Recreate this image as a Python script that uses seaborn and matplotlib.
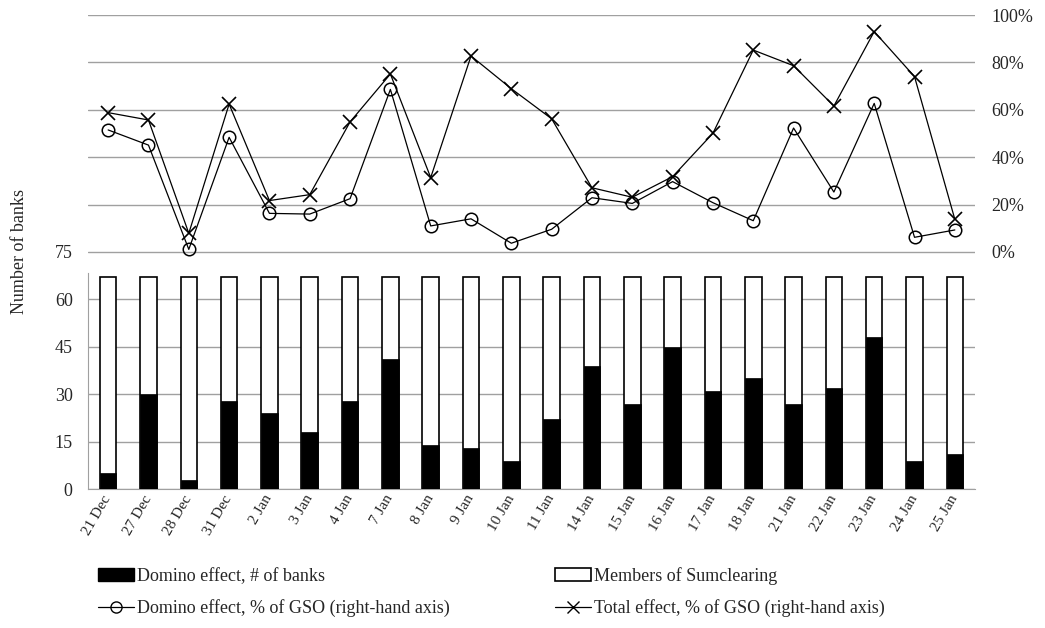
import numpy as np
import pandas as pd
import matplotlib
matplotlib.use('Agg')
import matplotlib.pyplot as plt
import matplotlib.transforms as mtransforms
from matplotlib.ticker import PercentFormatter, FixedLocator
from matplotlib.patches import Patch
from matplotlib.lines import Line2D
import seaborn as sns

# Data
dates = ['21 Dec', '27 Dec', '28 Dec', '31 Dec', '2 Jan', '3 Jan', '4 Jan', '7 Jan',
         '8 Jan', '9 Jan', '10 Jan', '11 Jan', '14 Jan', '15 Jan', '16 Jan', '17 Jan',
         '18 Jan', '21 Jan', '22 Jan', '23 Jan', '24 Jan', '25 Jan']
members = [67] * len(dates)
domino_banks = [5, 30, 3, 28, 24, 18, 28, 41, 14, 13, 9, 22, 39, 27, 45, 31, 35, 27, 32, 48, 9, 11]
domino_pct = [0.515, 0.451, 0.011, 0.484, 0.163, 0.160, 0.225, 0.686, 0.110, 0.140, 0.037, 0.096,
              0.229, 0.205, 0.297, 0.208, 0.132, 0.523, 0.253, 0.627, 0.062, 0.093]
total_pct = [0.588, 0.557, 0.079, 0.624, 0.217, 0.242, 0.549, 0.751, 0.314, 0.827, 0.689, 0.562,
             0.271, 0.231, 0.318, 0.501, 0.852, 0.786, 0.616, 0.930, 0.740, 0.138]

df = pd.DataFrame({'date': dates, 'members': members, 'domino': domino_banks,
                   'domino_pct': domino_pct, 'total_pct': total_pct})
df['pos'] = np.arange(len(df))

sns.set_style('white')
plt.rcParams['font.family'] = ['Liberation Serif', 'DejaVu Serif']
grid_col = '#A0A0A0'

fig = plt.figure(figsize=(10.45, 6.28), dpi=100)
ax = fig.add_axes([88 / 1045, 1 - 489 / 628, (975 - 88) / 1045, (489 - 15) / 628])

# Bars: total members (outlined) with domino effect count on top
sns.barplot(data=df, x='date', y='members', color='white', edgecolor='black',
            linewidth=1.2, width=0.41, saturation=1, ax=ax, zorder=2)
sns.barplot(data=df, x='date', y='domino', color='black', edgecolor='black',
            linewidth=0.5, width=0.41, saturation=1, ax=ax, zorder=3)

ax.set_xlim(-0.5, len(dates) - 0.5)
ax.set_ylim(0, 150)
ax.set_yticks(np.arange(0, 151, 15))
ax.set_yticklabels([str(v) if v <= 75 else '' for v in range(0, 151, 15)], fontsize=13)
ax.yaxis.grid(True, color=grid_col, linewidth=1)
ax.set_axisbelow(True)
ax.tick_params(axis='y', length=0, pad=11)
ax.set_ylabel('Number of banks', fontsize=13)
ax.yaxis.set_label_coords(-0.068, 0.5)
ax.set_xlabel('')

ax.set_xticks(df['pos'])
ax.set_xticklabels(dates, rotation=60, ha='right', va='center', rotation_mode='anchor', fontsize=11)
shift = mtransforms.ScaledTranslation(7 / 100, 0, fig.dpi_scale_trans)
for lbl in ax.get_xticklabels():
    lbl.set_transform(lbl.get_transform() + shift)
ax.xaxis.set_minor_locator(FixedLocator(np.arange(-0.5, len(dates), 1)))
ax.tick_params(axis='x', which='major', length=0, pad=5)
ax.tick_params(axis='x', which='minor', length=5, color=grid_col, width=1)

for side in ['top', 'right']:
    ax.spines[side].set_visible(False)
ax.spines['bottom'].set_color(grid_col)
ax.spines['left'].set_color(grid_col)
ax.spines['left'].set_bounds(0, 68.5)

# Lines on the right-hand axis
ax2 = ax.twinx()
sns.lineplot(data=df, x='pos', y='domino_pct', color='black', linewidth=0.9, marker='o',
             markersize=9, markerfacecolor='none', markeredgecolor='black',
             markeredgewidth=1.1, ax=ax2)
sns.lineplot(data=df, x='pos', y='total_pct', color='black', linewidth=0.9, marker='x',
             markersize=10, markeredgecolor='black', markeredgewidth=1.2, ax=ax2)
ax2.set_ylim(-1, 1)
ax2.set_yticks(np.arange(0, 1.01, 0.2))
ax2.yaxis.set_major_formatter(PercentFormatter(1.0, decimals=0))
ax2.tick_params(axis='y', length=0, pad=12, labelsize=13)
ax2.set_ylabel('')
ax2.set_xlabel('')
ax2.set_xlim(-0.5, len(dates) - 0.5)
for side in ax2.spines:
    ax2.spines[side].set_visible(False)

handles = [
    Patch(facecolor='black', edgecolor='black', label='Domino effect, # of banks'),
    Line2D([], [], color='black', linewidth=0.9, marker='o', markersize=8,
           markerfacecolor='none', label='Domino effect, % of GSO (right-hand axis)'),
    Patch(facecolor='white', edgecolor='black', linewidth=1.2, label='Members of Sumclearing'),
    Line2D([], [], color='black', linewidth=0.9, marker='x', markersize=9,
           label='Total effect, % of GSO (right-hand axis)'),
]
fig.legend(handles=handles, ncol=2, loc='center left', bbox_to_anchor=(98 / 1045, 1 - 592 / 628),
           frameon=False, fontsize=13, handlelength=2.0, handletextpad=0.15,
           columnspacing=5.85, labelspacing=0.8, borderpad=0, borderaxespad=0)

fig.savefig('out.png', dpi=100)
